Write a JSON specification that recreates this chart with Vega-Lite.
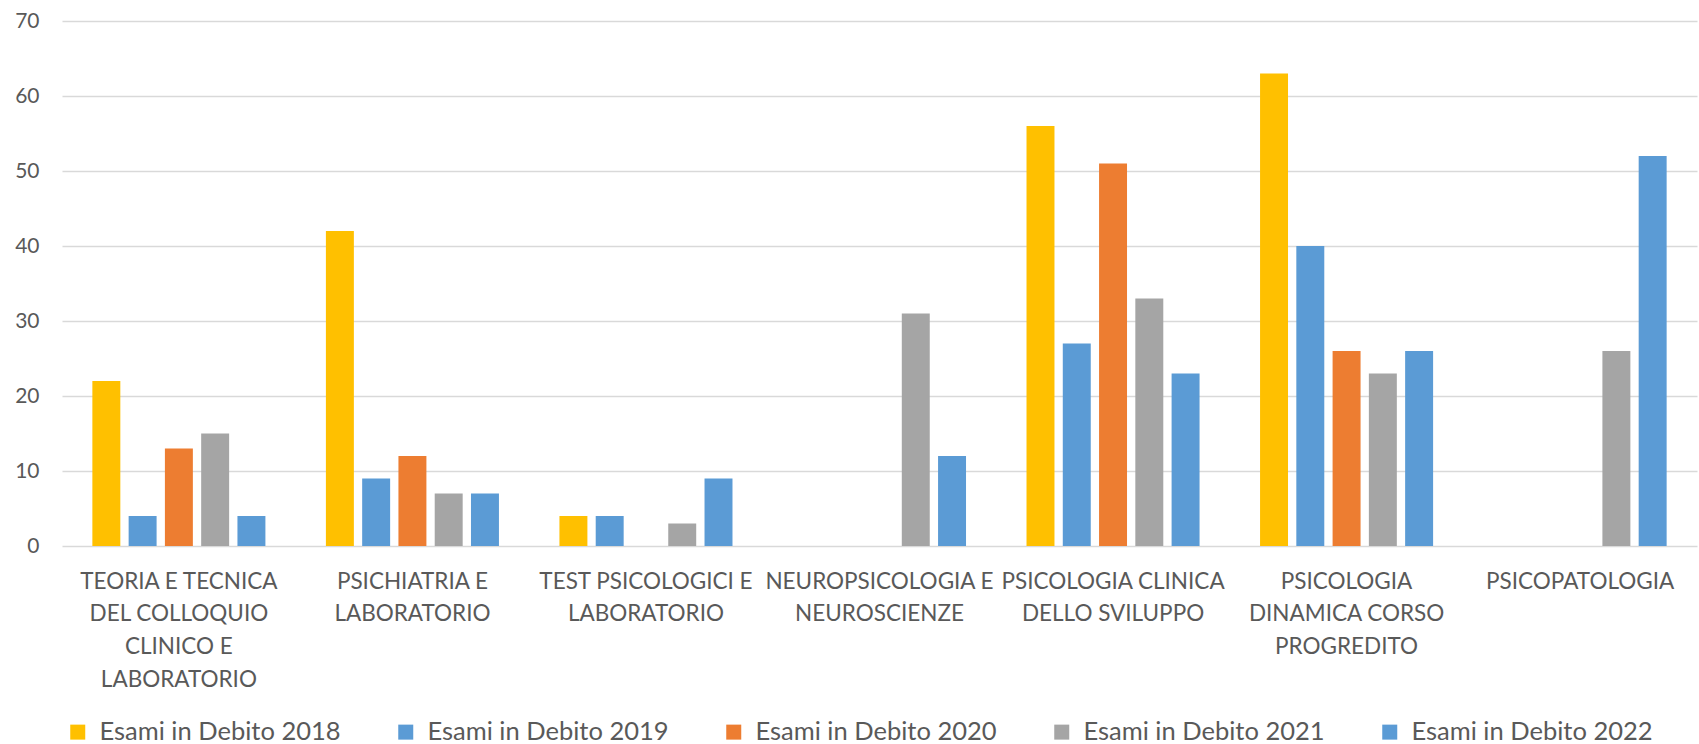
{
  "$schema": "https://vega.github.io/schema/vega-lite/v6.json",
  "width": 1635,
  "height": 525,
  "autosize": {"type": "none"},
  "padding": {"left": 62, "top": 21, "right": 2, "bottom": 198},
  "background": "white",
  "config": {"view": {"stroke": null}, "font": "Lato"},
  "data": {
    "values": [
      {"corso": "TEORIA E TECNICA|DEL COLLOQUIO|CLINICO E|LABORATORIO", "serie": "Esami in Debito 2018", "valore": 22},
      {"corso": "TEORIA E TECNICA|DEL COLLOQUIO|CLINICO E|LABORATORIO", "serie": "Esami in Debito 2019", "valore": 4},
      {"corso": "TEORIA E TECNICA|DEL COLLOQUIO|CLINICO E|LABORATORIO", "serie": "Esami in Debito 2020", "valore": 13},
      {"corso": "TEORIA E TECNICA|DEL COLLOQUIO|CLINICO E|LABORATORIO", "serie": "Esami in Debito 2021", "valore": 15},
      {"corso": "TEORIA E TECNICA|DEL COLLOQUIO|CLINICO E|LABORATORIO", "serie": "Esami in Debito 2022", "valore": 4},
      {"corso": "PSICHIATRIA E|LABORATORIO", "serie": "Esami in Debito 2018", "valore": 42},
      {"corso": "PSICHIATRIA E|LABORATORIO", "serie": "Esami in Debito 2019", "valore": 9},
      {"corso": "PSICHIATRIA E|LABORATORIO", "serie": "Esami in Debito 2020", "valore": 12},
      {"corso": "PSICHIATRIA E|LABORATORIO", "serie": "Esami in Debito 2021", "valore": 7},
      {"corso": "PSICHIATRIA E|LABORATORIO", "serie": "Esami in Debito 2022", "valore": 7},
      {"corso": "TEST PSICOLOGICI E|LABORATORIO", "serie": "Esami in Debito 2018", "valore": 4},
      {"corso": "TEST PSICOLOGICI E|LABORATORIO", "serie": "Esami in Debito 2019", "valore": 4},
      {"corso": "TEST PSICOLOGICI E|LABORATORIO", "serie": "Esami in Debito 2021", "valore": 3},
      {"corso": "TEST PSICOLOGICI E|LABORATORIO", "serie": "Esami in Debito 2022", "valore": 9},
      {"corso": "NEUROPSICOLOGIA E|NEUROSCIENZE", "serie": "Esami in Debito 2021", "valore": 31},
      {"corso": "NEUROPSICOLOGIA E|NEUROSCIENZE", "serie": "Esami in Debito 2022", "valore": 12},
      {"corso": "PSICOLOGIA CLINICA|DELLO SVILUPPO", "serie": "Esami in Debito 2018", "valore": 56},
      {"corso": "PSICOLOGIA CLINICA|DELLO SVILUPPO", "serie": "Esami in Debito 2019", "valore": 27},
      {"corso": "PSICOLOGIA CLINICA|DELLO SVILUPPO", "serie": "Esami in Debito 2020", "valore": 51},
      {"corso": "PSICOLOGIA CLINICA|DELLO SVILUPPO", "serie": "Esami in Debito 2021", "valore": 33},
      {"corso": "PSICOLOGIA CLINICA|DELLO SVILUPPO", "serie": "Esami in Debito 2022", "valore": 23},
      {"corso": "PSICOLOGIA|DINAMICA CORSO|PROGREDITO", "serie": "Esami in Debito 2018", "valore": 63},
      {"corso": "PSICOLOGIA|DINAMICA CORSO|PROGREDITO", "serie": "Esami in Debito 2019", "valore": 40},
      {"corso": "PSICOLOGIA|DINAMICA CORSO|PROGREDITO", "serie": "Esami in Debito 2020", "valore": 26},
      {"corso": "PSICOLOGIA|DINAMICA CORSO|PROGREDITO", "serie": "Esami in Debito 2021", "valore": 23},
      {"corso": "PSICOLOGIA|DINAMICA CORSO|PROGREDITO", "serie": "Esami in Debito 2022", "valore": 26},
      {"corso": "PSICOPATOLOGIA", "serie": "Esami in Debito 2021", "valore": 26},
      {"corso": "PSICOPATOLOGIA", "serie": "Esami in Debito 2022", "valore": 52}
    ]
  },
  "mark": {"type": "bar"},
  "encoding": {
    "x": {
      "field": "corso",
      "type": "nominal",
      "sort": null,
      "scale": {"paddingInner": 0.259, "paddingOuter": 0.13},
      "axis": {
        "title": null,
        "labelAngle": 0,
        "labelExpr": "split(datum.label, '|')",
        "labelFontSize": 22.5,
        "labelColor": "#595959",
        "labelLineHeight": 32.8,
        "ticks": false,
        "domain": false,
        "labelPadding": 24,
        "labelBaseline": "top",
        "labelLimit": 0
      }
    },
    "xOffset": {
      "field": "serie",
      "type": "nominal",
      "sort": ["Esami in Debito 2018", "Esami in Debito 2019", "Esami in Debito 2020", "Esami in Debito 2021", "Esami in Debito 2022"],
      "scale": {"paddingInner": 0.229, "paddingOuter": 0}
    },
    "y": {
      "field": "valore",
      "type": "quantitative",
      "scale": {"domain": [0, 70]},
      "axis": {
        "title": null,
        "values": [0, 10, 20, 30, 40, 50, 60, 70],
        "gridColor": "#d9d9d9",
        "gridWidth": 1.5,
        "domain": false,
        "ticks": false,
        "labelFontSize": 21,
        "labelColor": "#595959",
        "labelPadding": 23
      }
    },
    "color": {
      "field": "serie",
      "type": "nominal",
      "scale": {
        "domain": ["Esami in Debito 2018", "Esami in Debito 2019", "Esami in Debito 2020", "Esami in Debito 2021", "Esami in Debito 2022"],
        "range": ["#FFC000", "#5B9BD5", "#ED7D31", "#A5A5A5", "#5B9BD5"]
      },
      "legend": {
        "title": null,
        "orient": "none",
        "legendX": 3,
        "legendY": 698,
        "direction": "horizontal",
        "columns": 5,
        "symbolType": "square",
        "symbolSize": 225,
        "symbolStrokeWidth": 0,
        "labelFontSize": 25.5,
        "labelColor": "#595959",
        "labelOffset": 9,
        "columnPadding": 52,
        "labelLimit": 0
      }
    }
  }
}
